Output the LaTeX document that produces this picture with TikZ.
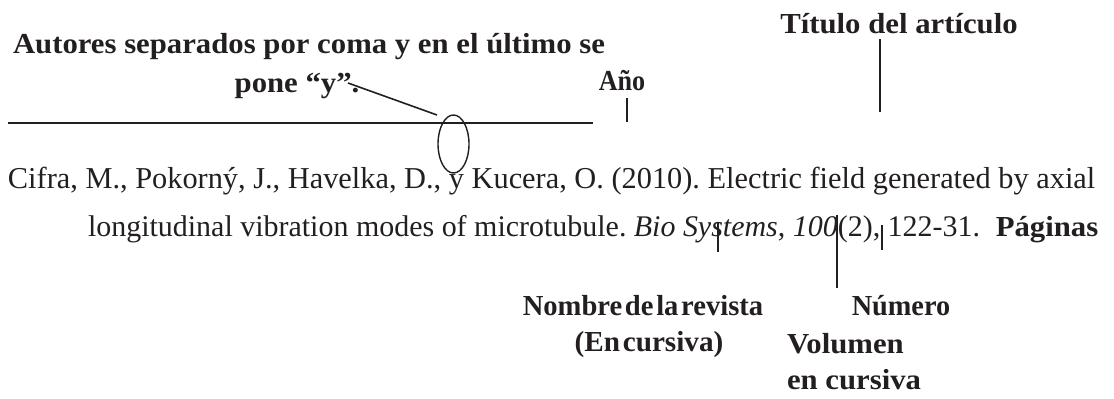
\documentclass[tikz,border=0pt]{standalone}
\usepackage{fontspec}
\setmainfont{Liberation Serif}
\newfontfamily\lblfont[FakeStretch=1.06]{Liberation Serif}
\usepackage{graphicx}
\usetikzlibrary{shapes.geometric}
\definecolor{ink}{RGB}{35,31,32}
\newcommand{\tightsp}{\spaceskip=0.1em\relax}
\frenchspacing
\begin{document}
\begin{tikzpicture}[x=1pt,y=-1pt,
  txt/.style={anchor=base west, inner sep=0pt, outer sep=0pt, text=ink},
  lbl/.style={anchor=base, inner sep=0pt, outer sep=0pt, text=ink, font=\lblfont\bfseries\fontsize{29}{33}\selectfont},
  rulestyle/.style={draw=ink, line width=1.8pt},
  tickstyle/.style={draw=ink, line width=1.6pt},
  ovalstyle/.style={draw=ink, line width=1.4pt, ellipse, minimum width=31pt, minimum height=58pt, inner sep=0pt}]
\useasboundingbox (0,0) rectangle (1114,399);
% labels
\node[lbl] (autores) at (309,53) {Autores separados por coma y en el último se};
\node[lbl] (pone) at (297,92) {pone “y”.};
\node[lbl] (anio) at (622,90) {\scalebox{0.85}[1]{Año}};
\node[lbl] (titulo) at (899,33) {Título del artículo};
% reference text
\node[txt] (ref1) at (8,188) {\resizebox{1087pt}{!}{Cifra, M., Pokorný, J., Havelka, D., y Kucera, O. (2010). Electric field generated by axial}};
\node[txt] (ref2) at (88,236) {\resizebox{892pt}{!}{longitudinal vibration modes of microtubule. \textit{Bio Systems}, \textit{100}(2), 122-31.}};
\node[lbl] (pags) at (1047,236) {Páginas};
% lower labels
\node[lbl] (revista) at (643,315) {\scalebox{0.93}[1]{\tightsp Nombre de la revista}};
\node[lbl] (encurs1) at (649,351) {\scalebox{0.95}[1]{\tightsp (En cursiva)}};
\node[lbl] (numero) at (901,315) {\scalebox{0.92}[1]{Número}};
\node[lbl, anchor=base west] (volumen) at (787,353) {Volumen};
\node[lbl, anchor=base west] (encurs2) at (787,389) {en cursiva};
% rule and oval
\coordinate (ruleL) at (8,123);
\coordinate (ruleR) at (593,123);
\draw[rulestyle] (ruleL) -- (ruleR);
\node[ovalstyle] (oval) at (453.5,144) {};
\coordinate (slantA) at (348,83);
\coordinate (slantB) at (437,115);
\draw[tickstyle] (slantA) -- (slantB);
% ticks
\coordinate (anioT) at (627,98);   \coordinate (anioB) at (627,122);
\coordinate (titT) at (880,39);    \coordinate (titB) at (880,112);
\coordinate (bioT) at (718,222);   \coordinate (bioB) at (718,252);
\coordinate (volT) at (837,215);   \coordinate (volB) at (837,288);
\coordinate (numT) at (882,225);   \coordinate (numB) at (882,250);
\draw[tickstyle] (anioT) -- (anioB);
\draw[tickstyle] (titT) -- (titB);
\draw[tickstyle] (bioT) -- (bioB);
\draw[tickstyle] (volT) -- (volB);
\draw[tickstyle] (numT) -- (numB);
\end{tikzpicture}
\end{document}
